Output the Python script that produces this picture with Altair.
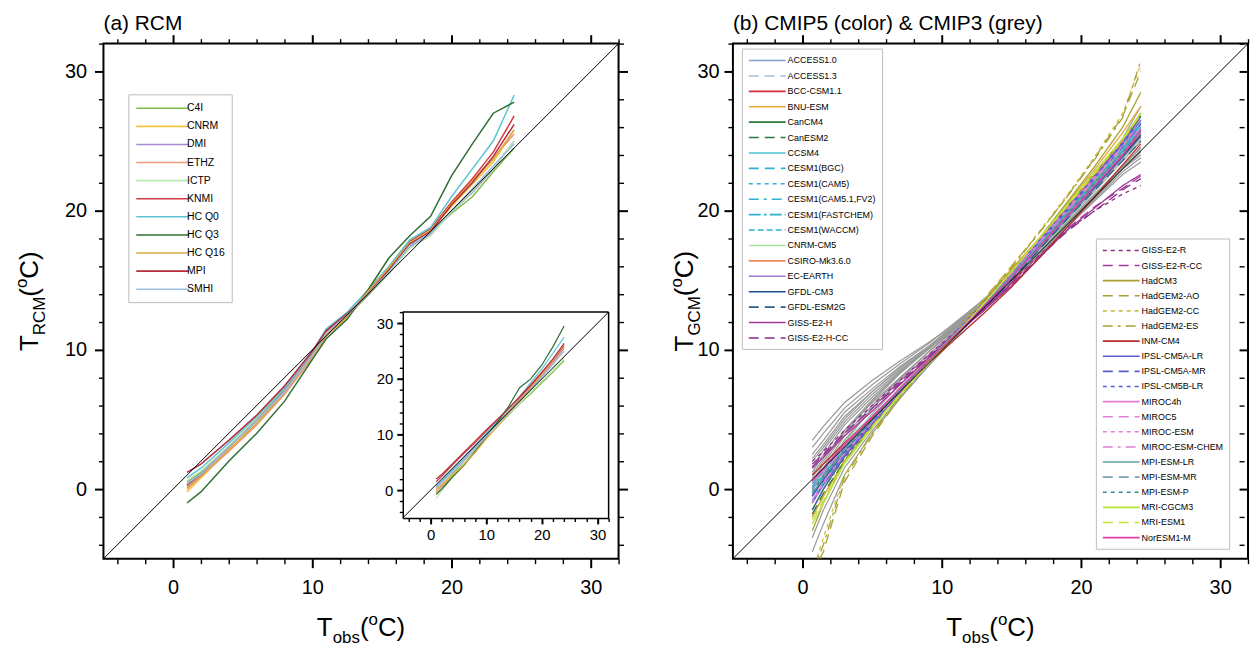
import altair as alt
import pandas as pd

FONT = "Liberation Sans"
W = 518
H = 518
DOM = [-5, 32]
TICKS = list(range(-4, 33, 2))

# ---------------- (a) RCM ----------------
rcm_names = ["C4I", "CNRM", "DMI", "ETHZ", "ICTP", "KNMI", "HC Q0", "HC Q3", "HC Q16", "MPI", "SMHI"]
rcm_colors = ["#7bbd45", "#f7c43c", "#a68ad8", "#f29a76", "#b9e8b0", "#cf3a44",
              "#5cc5d3", "#2f6e34", "#dba944", "#b52c3c", "#9cc1e0"]

rcm_x = [1, 2, 4, 6, 8, 10, 11, 12.5, 14, 15.5, 17, 18.5, 20, 21.5, 23, 24.5]
rcm_main = {
    "C4I":    [0.5, 1.2, 3.0, 5.0, 7.2, 9.8, 11.2, 12.4, 13.9, 15.5, 17.5, 18.4, 19.8, 21.0, 22.8, 24.5],
    "CNRM":   [-0.2, 0.8, 2.8, 4.7, 6.9, 9.5, 11.0, 12.3, 14.1, 15.7, 17.6, 18.6, 20.3, 21.9, 23.5, 25.8],
    "DMI":    [0.2, 1.0, 3.0, 4.9, 7.1, 9.7, 11.2, 12.5, 14.0, 15.6, 17.4, 18.3, 19.9, 21.3, 23.0, 25.0],
    "ETHZ":   [0.0, 0.9, 2.7, 4.6, 6.8, 9.4, 11.0, 12.4, 14.2, 15.9, 17.7, 18.6, 20.6, 22.2, 23.8, 25.5],
    "ICTP":   [0.6, 1.3, 3.1, 5.1, 7.3, 9.9, 11.4, 12.6, 14.0, 15.5, 17.3, 18.2, 19.9, 21.4, 23.1, 25.0],
    "KNMI":   [0.3, 1.1, 3.0, 4.9, 7.0, 9.6, 11.3, 12.5, 14.1, 15.8, 17.8, 18.7, 20.6, 22.3, 24.2, 26.8],
    "HC Q0":  [0.8, 1.5, 3.3, 5.2, 7.3, 9.9, 11.5, 12.7, 14.3, 16.0, 17.9, 18.8, 21.0, 23.0, 25.0, 28.3],
    "HC Q3":  [-1.0, -0.2, 2.0, 4.0, 6.3, 9.3, 10.8, 12.2, 14.3, 16.6, 18.2, 19.6, 22.5, 24.8, 27.0, 27.8],
    "HC Q16": [0.1, 0.9, 2.8, 4.7, 6.9, 9.5, 11.1, 12.4, 14.2, 15.9, 17.7, 18.6, 20.5, 22.1, 23.7, 25.8],
    "MPI":    [1.2, 1.8, 3.5, 5.3, 7.4, 9.9, 11.4, 12.6, 14.0, 15.7, 17.6, 18.5, 20.4, 22.0, 23.9, 26.2],
    "SMHI":   [0.4, 1.1, 3.0, 4.9, 7.0, 9.6, 11.2, 12.5, 14.0, 15.6, 17.5, 18.4, 20.0, 21.6, 23.2, 24.8],
}

inset_x = [1, 2, 4, 6, 8, 10, 12, 14, 16, 18, 20, 22, 24]
rcm_inset = {
    "C4I":    [-0.5, 0.8, 3.0, 5.2, 7.5, 9.6, 11.5, 13.5, 15.5, 17.3, 19.3, 21.2, 23.3],
    "CNRM":   [0.0, 1.0, 2.8, 4.5, 6.8, 9.3, 11.8, 13.8, 15.8, 18.0, 20.4, 22.8, 25.0],
    "DMI":    [0.5, 1.5, 3.6, 5.6, 7.8, 10.0, 12.0, 14.0, 16.0, 18.2, 20.5, 23.0, 25.5],
    "ETHZ":   [-0.3, 0.6, 2.5, 4.4, 6.9, 9.5, 12.0, 14.2, 16.3, 18.5, 20.7, 23.2, 25.8],
    "ICTP":   [-1.5, -0.2, 2.6, 4.9, 7.3, 9.6, 11.6, 13.6, 15.6, 17.6, 19.6, 21.6, 23.8],
    "KNMI":   [1.5, 2.5, 4.6, 6.6, 8.5, 10.6, 12.6, 14.6, 16.6, 18.8, 21.0, 23.4, 26.0],
    "HC Q0":  [0.8, 1.7, 3.8, 5.9, 8.0, 10.2, 12.3, 14.5, 16.8, 19.3, 21.8, 24.6, 27.5],
    "HC Q3":  [-0.8, 0.2, 2.4, 4.5, 7.0, 9.6, 12.2, 15.0, 18.4, 20.0, 22.5, 25.8, 29.5],
    "HC Q16": [0.2, 0.9, 2.7, 4.6, 6.8, 9.2, 11.4, 13.7, 16.0, 18.3, 20.8, 23.4, 26.2],
    "MPI":    [2.0, 2.8, 4.8, 6.8, 8.8, 10.8, 12.7, 14.7, 16.8, 18.9, 21.2, 23.6, 26.4],
    "SMHI":   [0.3, 1.3, 3.3, 5.3, 7.4, 9.7, 11.8, 13.9, 16.0, 18.1, 20.3, 22.6, 25.0],
}

# ---------------- (b) CMIP5 & CMIP3 ----------------
gcm_x = [0.7, 1.5, 3, 5, 7, 9, 11, 13, 15, 17, 19, 21, 23, 24.3]

SOLID = [1, 0]
LDASH = [10, 6]
SDASH = [4, 4]
LSDASH = [10, 5, 3, 5]
LSSDASH = [12, 3, 3, 3]
MDASH = [6, 3]

cmip5_a_names = ["ACCESS1.0", "ACCESS1.3", "BCC-CSM1.1", "BNU-ESM", "CanCM4", "CanESM2", "CCSM4",
                 "CESM1(BGC)", "CESM1(CAM5)", "CESM1(CAM5.1,FV2)", "CESM1(FASTCHEM)", "CESM1(WACCM)",
                 "CNRM-CM5", "CSIRO-Mk3.6.0", "EC-EARTH", "GFDL-CM3", "GFDL-ESM2G", "GISS-E2-H", "GISS-E2-H-CC"]
cmip5_a_colors = ["#7f9fd0", "#9dbde0", "#d42a3a", "#e6a83a", "#2d7a34", "#2d7a34", "#4cc3d8",
                  "#2bb3d0", "#2bb3d0", "#2bb3d0", "#2bb3d0", "#2bb3d0",
                  "#a6e3a0", "#f08a5d", "#9a80d2", "#1f4f8a", "#2b5f88", "#a03a9c", "#8a2c86"]
cmip5_a_dash = [SOLID, LDASH, SOLID, SOLID, SOLID, LDASH, SOLID,
                LDASH, SDASH, LSDASH, LSSDASH, MDASH,
                SOLID, SOLID, SOLID, SOLID, LDASH, SOLID, LDASH]
cmip5_a = {
    "ACCESS1.0":         [-1.0, 0.5, 2.5, 4.8, 7.0, 9.0, 11.0, 13.2, 15.4, 17.6, 19.8, 22.0, 24.2, 26.0],
    "ACCESS1.3":         [-0.5, 0.8, 2.8, 5.0, 7.1, 9.1, 11.1, 13.3, 15.5, 17.8, 20.0, 22.3, 24.5, 26.5],
    "BCC-CSM1.1":        [0.5, 1.5, 3.2, 5.1, 7.0, 9.0, 11.2, 12.8, 14.8, 17.2, 19.6, 21.8, 24.0, 25.5],
    "BNU-ESM":           [-2.0, -0.5, 2.0, 4.5, 6.8, 9.0, 11.0, 13.5, 15.8, 18.0, 20.5, 23.0, 25.6, 27.5],
    "CanCM4":            [-1.5, 0.0, 2.3, 4.7, 7.0, 9.2, 11.2, 13.4, 15.6, 17.8, 20.2, 22.6, 24.8, 26.8],
    "CanESM2":           [-1.8, -0.3, 2.0, 4.5, 6.9, 9.1, 11.1, 13.3, 15.5, 17.9, 20.3, 22.8, 25.0, 27.0],
    "CCSM4":             [0.0, 1.0, 2.8, 4.9, 7.0, 9.1, 11.0, 13.0, 15.2, 17.4, 19.6, 21.8, 24.2, 26.2],
    "CESM1(BGC)":        [0.2, 1.1, 2.9, 5.0, 7.1, 9.2, 11.1, 13.1, 15.3, 17.5, 19.7, 21.9, 24.3, 26.4],
    "CESM1(CAM5)":       [-0.8, 0.5, 2.5, 4.8, 7.0, 9.2, 11.3, 13.4, 15.6, 17.8, 20.0, 22.4, 24.8, 27.0],
    "CESM1(CAM5.1,FV2)": [-0.3, 0.8, 2.7, 4.9, 7.1, 9.2, 11.2, 13.2, 15.4, 17.6, 19.9, 22.1, 24.5, 26.6],
    "CESM1(FASTCHEM)":   [0.1, 1.0, 2.8, 4.9, 7.0, 9.1, 11.1, 13.1, 15.3, 17.5, 19.7, 21.9, 24.3, 26.3],
    "CESM1(WACCM)":      [0.4, 1.3, 3.0, 5.1, 7.2, 9.2, 11.1, 13.0, 15.1, 17.3, 19.5, 21.7, 24.0, 25.9],
    "CNRM-CM5":          [1.0, 1.8, 3.4, 5.3, 7.2, 9.1, 11.0, 13.0, 15.0, 17.1, 19.3, 21.5, 23.6, 25.2],
    "CSIRO-Mk3.6.0":     [-0.5, 0.8, 2.8, 5.0, 7.2, 9.3, 11.3, 13.4, 15.6, 17.9, 20.2, 22.6, 25.0, 27.0],
    "EC-EARTH":          [0.5, 1.4, 3.2, 5.2, 7.2, 9.2, 11.0, 12.9, 15.0, 17.2, 19.4, 21.6, 23.8, 25.3],
    "GFDL-CM3":          [-0.5, 0.7, 2.6, 4.8, 7.0, 9.1, 11.0, 13.0, 15.2, 17.4, 19.6, 21.7, 23.9, 25.4],
    "GFDL-ESM2G":        [0.0, 1.0, 2.9, 5.0, 7.1, 9.1, 11.0, 12.9, 15.0, 17.2, 19.4, 21.5, 23.6, 25.0],
    "GISS-E2-H":         [1.5, 2.3, 3.8, 5.6, 7.5, 9.4, 11.1, 12.8, 14.6, 16.6, 18.6, 20.2, 21.8, 22.6],
    "GISS-E2-H-CC":      [1.8, 2.5, 4.0, 5.8, 7.6, 9.4, 11.2, 12.9, 14.7, 16.7, 18.5, 20.0, 21.5, 22.3],
}

cmip5_b_names = ["GISS-E2-R", "GISS-E2-R-CC", "HadCM3", "HadGEM2-AO", "HadGEM2-CC", "HadGEM2-ES",
                 "INM-CM4", "IPSL-CM5A-LR", "IPSL-CM5A-MR", "IPSL-CM5B-LR", "MIROC4h", "MIROC5",
                 "MIROC-ESM", "MIROC-ESM-CHEM", "MPI-ESM-LR", "MPI-ESM-MR", "MPI-ESM-P",
                 "MRI-CGCM3", "MRI-ESM1", "NorESM1-M"]
cmip5_b_colors = ["#8a2c86", "#a03a9c", "#a9a032", "#a9a032", "#c9c24a", "#a9a032",
                  "#b52a2a", "#5c5cd6", "#5c5cd6", "#5c5cd6", "#e27fd9", "#e27fd9",
                  "#e27fd9", "#e27fd9", "#5fa3a3", "#7e9fb0", "#3c8a98",
                  "#b6e63a", "#c6e43a", "#e23ea6"]
cmip5_b_dash = [SDASH, LDASH, SOLID, LDASH, SDASH, LSDASH,
                SOLID, SOLID, LDASH, SDASH, SOLID, LDASH,
                SDASH, LSDASH, SOLID, LDASH, SDASH,
                SOLID, LDASH, SOLID]
cmip5_b = {
    "GISS-E2-R":      [2.0, 2.7, 4.2, 6.0, 7.8, 9.6, 11.3, 13.0, 14.8, 16.8, 18.6, 20.0, 21.2, 21.8],
    "GISS-E2-R-CC":   [1.6, 2.4, 4.0, 5.8, 7.7, 9.5, 11.2, 12.9, 14.7, 16.7, 18.7, 20.3, 21.6, 22.5],
    "HadCM3":         [-3.0, -1.0, 2.0, 4.6, 6.9, 9.0, 11.0, 13.3, 15.7, 18.0, 20.6, 23.2, 26.0, 28.5],
    "HadGEM2-AO":     [-6.0, -4.5, 0.5, 3.8, 6.6, 9.0, 11.2, 13.6, 16.0, 18.4, 21.0, 23.8, 26.8, 30.0],
    "HadGEM2-CC":     [-6.0, -3.5, 1.0, 4.0, 6.7, 9.1, 11.3, 13.6, 16.0, 18.5, 21.1, 23.9, 27.0, 30.5],
    "HadGEM2-ES":     [-6.0, -4.0, 0.8, 4.0, 6.7, 9.0, 11.2, 13.5, 15.9, 18.4, 21.0, 23.7, 26.7, 30.8],
    "INM-CM4":        [1.0, 1.8, 3.3, 5.1, 7.0, 9.0, 10.8, 12.6, 14.5, 16.6, 18.8, 21.0, 23.3, 24.8],
    "IPSL-CM5A-LR":   [-1.0, 0.3, 2.4, 4.7, 6.9, 9.1, 11.2, 13.3, 15.5, 17.8, 20.1, 22.4, 24.8, 26.5],
    "IPSL-CM5A-MR":   [-0.5, 0.6, 2.6, 4.8, 7.0, 9.1, 11.2, 13.2, 15.4, 17.7, 20.0, 22.3, 24.6, 26.2],
    "IPSL-CM5B-LR":   [-1.5, 0.0, 2.2, 4.6, 6.9, 9.2, 11.3, 13.4, 15.6, 17.9, 20.2, 22.5, 24.9, 26.8],
    "MIROC4h":        [0.5, 1.5, 3.2, 5.2, 7.2, 9.2, 11.1, 13.1, 15.2, 17.4, 19.6, 21.8, 24.0, 25.8],
    "MIROC5":         [0.0, 1.2, 3.0, 5.0, 7.1, 9.2, 11.2, 13.2, 15.3, 17.5, 19.7, 21.9, 24.2, 26.0],
    "MIROC-ESM":      [-1.0, 0.4, 2.5, 4.8, 7.0, 9.1, 11.2, 13.3, 15.5, 17.8, 20.1, 22.4, 24.7, 26.6],
    "MIROC-ESM-CHEM": [-0.8, 0.5, 2.6, 4.8, 7.0, 9.1, 11.2, 13.3, 15.5, 17.7, 20.0, 22.3, 24.6, 26.4],
    "MPI-ESM-LR":     [-0.3, 0.8, 2.8, 5.0, 7.1, 9.2, 11.2, 13.2, 15.3, 17.5, 19.8, 22.0, 24.3, 25.8],
    "MPI-ESM-MR":     [0.0, 1.0, 2.9, 5.0, 7.1, 9.2, 11.2, 13.1, 15.2, 17.4, 19.7, 21.9, 24.1, 25.6],
    "MPI-ESM-P":      [-0.2, 0.9, 2.8, 4.9, 7.0, 9.1, 11.1, 13.1, 15.2, 17.4, 19.7, 22.0, 24.2, 25.7],
    "MRI-CGCM3":      [-2.5, -1.0, 1.8, 4.4, 6.8, 9.0, 11.1, 13.3, 15.6, 18.0, 20.4, 22.8, 25.2, 27.0],
    "MRI-ESM1":       [-2.2, -0.8, 1.9, 4.5, 6.8, 9.0, 11.1, 13.3, 15.6, 18.0, 20.3, 22.7, 25.1, 26.9],
    "NorESM1-M":      [0.6, 1.5, 3.2, 5.2, 7.2, 9.2, 11.1, 13.1, 15.2, 17.4, 19.6, 21.8, 24.0, 25.8],
}

cmip3_grey = [
    [2.5, 3.5, 5.5, 7.2, 8.8, 10.2, 11.8, 13.5, 15.2, 17.2, 19.2, 21.2, 23.2, 24.5],
    [3.0, 4.0, 5.8, 7.5, 9.0, 10.4, 12.0, 13.6, 15.4, 17.4, 19.4, 21.5, 23.6, 25.0],
    [1.0, 2.2, 4.2, 6.2, 8.0, 9.8, 11.5, 13.2, 15.0, 17.0, 19.0, 21.0, 23.0, 24.2],
    [0.0, 1.3, 3.5, 5.8, 7.8, 9.6, 11.4, 13.3, 15.3, 17.5, 19.8, 22.0, 24.2, 25.8],
    [-2.0, -0.5, 2.0, 4.6, 6.9, 9.0, 11.0, 13.0, 15.1, 17.3, 19.6, 21.9, 24.3, 26.0],
    [1.5, 2.8, 4.8, 6.8, 8.5, 10.0, 11.6, 13.3, 15.1, 17.1, 19.1, 21.1, 23.1, 24.3],
    [-3.5, -1.5, 1.5, 4.2, 6.6, 8.8, 10.9, 13.0, 15.2, 17.5, 19.9, 22.3, 24.8, 26.8],
    [0.5, 1.8, 4.0, 6.3, 8.3, 10.0, 11.7, 13.4, 15.2, 17.2, 19.3, 21.4, 23.6, 25.0],
    [2.0, 3.0, 5.0, 7.0, 8.6, 10.1, 11.6, 13.2, 14.9, 16.8, 18.8, 20.8, 22.8, 23.8],
    [-1.0, 0.5, 3.0, 5.4, 7.5, 9.4, 11.3, 13.2, 15.2, 17.4, 19.6, 21.8, 24.0, 25.5],
    [3.5, 4.5, 6.2, 7.8, 9.2, 10.5, 11.9, 13.4, 15.0, 16.9, 18.8, 20.7, 22.6, 23.5],
    [0.8, 2.0, 4.2, 6.4, 8.4, 10.2, 11.9, 13.6, 15.5, 17.6, 19.8, 22.1, 24.5, 26.2],
    [-0.5, 1.0, 3.4, 5.8, 7.9, 9.8, 11.6, 13.5, 15.5, 17.7, 20.0, 22.4, 24.8, 26.5],
    [1.2, 2.5, 4.6, 6.6, 8.4, 10.0, 11.6, 13.2, 15.0, 16.9, 18.9, 20.9, 23.0, 24.0],
    [-4.5, -2.5, 1.0, 4.0, 6.5, 8.8, 11.0, 13.2, 15.4, 17.7, 20.1, 22.6, 25.2, 27.5],
    [2.2, 3.2, 5.2, 7.0, 8.7, 10.2, 11.7, 13.3, 15.0, 16.9, 18.9, 21.0, 23.2, 24.6],
    [0.2, 1.5, 3.8, 6.0, 8.0, 9.8, 11.5, 13.3, 15.2, 17.3, 19.5, 21.6, 23.8, 25.2],
    [-1.5, 0.0, 2.6, 5.1, 7.3, 9.3, 11.2, 13.2, 15.3, 17.5, 19.8, 22.2, 24.6, 26.3],
]

diag_x = [-5, 32]
diag_y = [-5, 32]


def long(xs, series):
    rows = []
    for name, ys in series.items():
        for i, (x, y) in enumerate(zip(xs, ys)):
            rows.append({"model": name, "x": x, "y": y, "i": i})
    return pd.DataFrame(rows)


df_rcm = long(rcm_x, rcm_main)
df_inset = long(inset_x, rcm_inset)
df_a = long(gcm_x, cmip5_a)
df_b = long(gcm_x, cmip5_b)
df_grey = long(gcm_x, {f"cmip3_{k}": v for k, v in enumerate(cmip3_grey)})
df_diag = pd.DataFrame({"x": diag_x, "y": diag_y})
one = pd.DataFrame({"x": [0], "y": [0]})

SC = alt.Scale(domain=DOM, nice=False, zero=False)


def ax(orient, labels=True, fs=20, major=9, minor=5, pad=8, domain=False, offset=0, dw=2):
    return alt.Axis(
        orient=orient, values=TICKS, labels=labels,
        labelExpr="datum.value % 10 === 0 ? datum.label : ''",
        tickSize={"condition": {"test": "datum.value % 10 === 0", "value": major}, "value": minor},
        tickWidth={"condition": {"test": "datum.value % 10 === 0", "value": 2}, "value": 1.4},
        tickColor="black", domain=domain, domainColor="black", domainWidth=dw,
        labelFont=FONT, labelFontSize=fs, labelColor="black", labelPadding=pad,
        labelOverlap=False, grid=False, title=None, offset=offset)


AX_B = ax("bottom", pad=10)
AX_L = ax("left", pad=8)
AX_L_R = ax("left", pad=5)


def xy(xscale=SC, yscale=SC, xaxis=AX_B, yaxis=AX_L):
    return dict(x=alt.X("x:Q", scale=xscale, axis=xaxis),
                y=alt.Y("y:Q", scale=yscale, axis=yaxis))


WID = {"T": .611, "R": .722, "C": .722, "M": .833, "G": .778, "o": .556,
       "b": .556, "s": .5, "(": .333, ")": .333}


def tw(s, size):
    return sum(WID[c] for c in s) * size


def axis_title(sub, x, y, angle, big=26, small=17):
    pieces = [("T", big, 0), (sub, small, 7), ("(", big, 0), ("o", small, -11), ("C)", big, 0)]
    total = sum(tw(t, s) for t, s, _ in pieces)
    dx = -total / 2
    out = []
    for t, s, dy in pieces:
        out.append(alt.Chart(one).mark_text(
            text=t, font=FONT, fontSize=s, align="left", baseline="alphabetic",
            angle=angle, dx=dx, dy=dy, color="black").encode(x=alt.value(x), y=alt.value(y)))
        dx += tw(t, s)
    return out


def legend(x, y, fs, size, path, loff, rowpad, pad):
    return alt.Legend(title=None, orient="none", legendX=x, legendY=y, symbolType=path,
                      symbolSize=size, symbolStrokeWidth=1.6, labelFont=FONT, labelFontSize=fs,
                      labelColor="black", labelOffset=loff, rowPadding=rowpad, padding=pad,
                      strokeColor="#bdbdbd", fillColor="white", symbolLimit=60, labelLimit=400)


def mirror(right_offset=0):
    return alt.Chart(one).mark_point(opacity=0).encode(
        x=alt.X("x:Q", scale=SC, axis=ax("top", labels=False)),
        y=alt.Y("y:Q", scale=SC, axis=ax("right", labels=False, offset=right_offset)))


def diag_line(yaxis=AX_L):
    return alt.Chart(df_diag).mark_line(color="black", strokeWidth=1, clip=True).encode(**xy(yaxis=yaxis))


def ptitle(text):
    return alt.TitleParams(text=text, anchor="start", frame="group", font=FONT, fontSize=21,
                           fontWeight="normal", color="black", offset=0)


# ----- left panel -----
leg_rcm = legend(25, 51, 10.5, 144, "M-1,0H7.83", 38, 5.2, 7)
main_lines = alt.Chart(df_rcm).mark_line(clip=True, strokeWidth=1.5).encode(
    **xy(),
    color=alt.Color("model:N", scale=alt.Scale(domain=rcm_names, range=rcm_colors), legend=leg_rcm),
    order="i:Q")

left_core = alt.layer(main_lines, diag_line(),
                      *axis_title("RCM", -66, H / 2, 270),
                      *axis_title("obs", W / 2, H + 78, 0))
left_main = alt.layer(left_core, mirror()).resolve_scale(x="independent", y="independent")

ISX = alt.Scale(domain=DOM, range=[301, 508], nice=False, zero=False)
ISY = alt.Scale(domain=DOM, range=[477, 270], nice=False, zero=False)
IAX_B = ax("bottom", fs=15, major=6, minor=3.5, pad=4, domain=True, offset=-(H - 477), dw=1.5)
IAX_L = ax("left", fs=15, major=6, minor=3.5, pad=4, domain=True, offset=-301, dw=1.5)
ixy = xy(ISX, ISY, IAX_B, IAX_L)

inset_lines = alt.Chart(df_inset).mark_line(strokeWidth=1.2).encode(
    **ixy,
    color=alt.Color("model:N", scale=alt.Scale(domain=rcm_names, range=rcm_colors), legend=None),
    order="i:Q")
inset_diag = alt.Chart(df_diag).mark_line(color="black", strokeWidth=1).encode(**ixy)
box_df = pd.DataFrame({"x": [DOM[0], DOM[1]], "x2": [DOM[1], DOM[1]],
                       "y": [DOM[1], DOM[0]], "y2": [DOM[1], DOM[1]]})
inset_box = alt.Chart(box_df).mark_rule(color="black", strokeWidth=1.5).encode(
    **ixy, x2="x2:Q", y2="y2:Q")
inset = alt.layer(inset_lines, inset_diag, inset_box)

left = alt.layer(left_main, inset).resolve_scale(
    x="independent", y="independent", color="independent"
).properties(width=W, height=H, title=ptitle("(a) RCM"))

# ----- right panel -----
legA = legend(9, 5, 9, 100, "M-1,0H6.4", 28, 4.5, 6)
legB = legend(365, 196, 9, 100, "M-1,0H6.4", 28, 4.2, 6)

grey = alt.Chart(df_grey).mark_line(clip=True, strokeWidth=1.2, color="#999999").encode(
    **xy(yaxis=AX_L_R), detail="model:N", order="i:Q")
colA = alt.Chart(df_a).mark_line(clip=True, strokeWidth=1.3).encode(
    **xy(yaxis=AX_L_R),
    color=alt.Color("model:N", scale=alt.Scale(domain=cmip5_a_names, range=cmip5_a_colors), legend=legA),
    strokeDash=alt.StrokeDash("model:N", scale=alt.Scale(domain=cmip5_a_names, range=cmip5_a_dash), legend=legA),
    order="i:Q")
colB = alt.Chart(df_b).mark_line(clip=True, strokeWidth=1.3).encode(
    **xy(yaxis=AX_L_R),
    color=alt.Color("model:N", scale=alt.Scale(domain=cmip5_b_names, range=cmip5_b_colors), legend=legB),
    strokeDash=alt.StrokeDash("model:N", scale=alt.Scale(domain=cmip5_b_names, range=cmip5_b_dash), legend=legB),
    order="i:Q")

right_core = alt.layer(grey, colA, colB, diag_line(AX_L_R),
                       *axis_title("GCM", -40, H / 2, 270),
                       *axis_title("obs", W / 2, H + 78, 0)
                       ).resolve_scale(color="independent", strokeDash="independent")
right = alt.layer(right_core, mirror(-9)).resolve_scale(
    x="independent", y="independent", color="independent", strokeDash="independent"
).properties(width=W, height=H, title=ptitle("(b) CMIP5 (color) & CMIP3 (grey)"))

chart = alt.hconcat(left, right, spacing=38).properties(
    padding={"left": 4, "top": 2, "right": 0, "bottom": 0}, background="white"
).configure_view(stroke="black", strokeWidth=2)

chart.save("out.html", embed_options={"renderer": "svg", "actions": False})
